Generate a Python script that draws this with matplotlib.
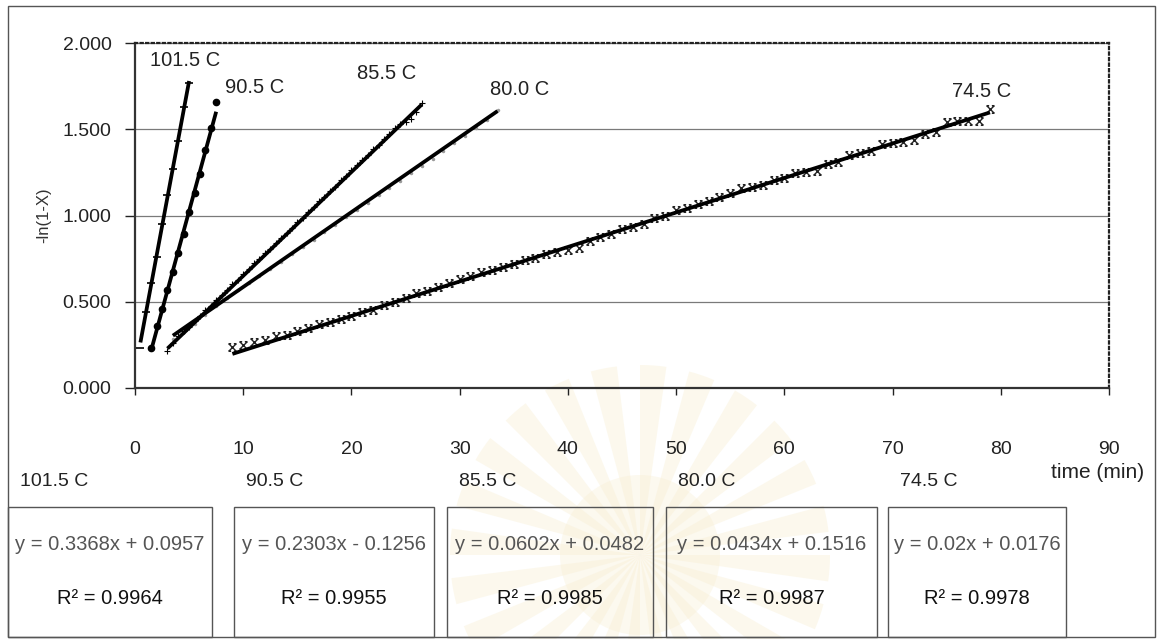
import numpy as np
import matplotlib
matplotlib.use("Agg")
import matplotlib.pyplot as plt
from matplotlib.path import Path
from matplotlib.patches import Rectangle, Wedge

plt.rcParams['font.family'] = ['Liberation Sans', 'DejaVu Sans']

# conversion runs: time (min) vs -ln(1-X)
labels = ['101.5 C', '90.5 C', '85.5 C', '80.0 C', '74.5 C']

t_1015 = [0.5, 1.0, 1.5, 2.0, 2.5, 3.0, 3.5, 4.0, 4.5, 5.0]
y_1015 = [0.23, 0.44, 0.61, 0.76, 0.95, 1.12, 1.27, 1.43, 1.63, 1.77]

t_905 = [1.5, 2.0, 2.5, 3.0, 3.5, 4.0, 4.5, 5.0, 5.5, 6.0, 6.5, 7.0, 7.5]
y_905 = [0.23, 0.36, 0.46, 0.57, 0.67, 0.78, 0.89, 1.02, 1.13, 1.24, 1.38, 1.51, 1.66]

t_855 = [3.0, 3.5, 4.0, 4.5, 5.0, 5.5, 6.0, 6.5, 7.0, 7.5, 8.0, 8.5, 9.0, 9.5,
         10.0, 10.5, 11.0, 11.5, 12.0, 12.5, 13.0, 13.5, 14.0, 14.5, 15.0, 15.5,
         16.0, 16.5, 17.0, 17.5, 18.0, 18.5, 19.0, 19.5, 20.0, 20.5, 21.0, 21.5,
         22.0, 22.5, 23.0, 23.5, 24.0, 24.5, 25.0, 25.5, 26.0, 26.5]
y_855 = [0.215, 0.262, 0.300, 0.330, 0.352, 0.390, 0.418, 0.452, 0.478, 0.508,
         0.542, 0.566, 0.601, 0.628, 0.662, 0.688, 0.722, 0.748, 0.783, 0.806,
         0.842, 0.868, 0.900, 0.930, 0.962, 0.988, 1.020, 1.050, 1.083, 1.108,
         1.143, 1.168, 1.203, 1.228, 1.262, 1.290, 1.322, 1.350, 1.384, 1.410,
         1.445, 1.470, 1.505, 1.530, 1.540, 1.560, 1.600, 1.650]

t_800 = [3.5, 4.5, 5.5, 6.5, 7.5, 8.5, 9.5, 10.5, 11.5, 12.5, 13.5, 14.5, 15.5,
         16.5, 17.5, 18.5, 19.5, 20.5, 21.5, 22.5, 23.5, 24.5, 25.5, 26.5, 27.5,
         28.5, 29.5, 30.5, 31.5, 32.5, 33.5]
y_800 = [0.285, 0.325, 0.372, 0.425, 0.474, 0.520, 0.566, 0.610, 0.652, 0.690,
         0.732, 0.775, 0.818, 0.860, 0.902, 0.946, 0.990, 1.032, 1.074, 1.118,
         1.160, 1.200, 1.244, 1.288, 1.330, 1.374, 1.418, 1.460, 1.508, 1.552,
         1.612]

t_745 = [9, 10, 11, 12, 13, 14, 15, 16, 17, 18, 19, 20, 21, 22, 23, 24, 25, 26,
         27, 28, 29, 30, 31, 32, 33, 34, 35, 36, 37, 38, 39, 40, 41, 42, 43, 44,
         45, 46, 47, 48, 49, 50, 51, 52, 53, 54, 55, 56, 57, 58, 59, 60, 61, 62,
         63, 64, 65, 66, 67, 68, 69, 70, 71, 72, 73, 74, 75, 76, 77, 78, 79]
y_745 = [0.235, 0.250, 0.265, 0.280, 0.300, 0.310, 0.330, 0.350, 0.370, 0.385,
         0.400, 0.420, 0.440, 0.455, 0.480, 0.500, 0.520, 0.550, 0.565, 0.585,
         0.610, 0.630, 0.650, 0.670, 0.685, 0.700, 0.720, 0.740, 0.755, 0.775,
         0.790, 0.800, 0.810, 0.855, 0.875, 0.890, 0.920, 0.935, 0.950, 0.985,
         0.995, 1.030, 1.045, 1.065, 1.085, 1.110, 1.130, 1.160, 1.165, 1.175,
         1.205, 1.215, 1.245, 1.250, 1.260, 1.300, 1.310, 1.350, 1.360, 1.375,
         1.415, 1.420, 1.425, 1.435, 1.470, 1.485, 1.540, 1.545, 1.545, 1.550,
         1.620]

# linear trend lines reported for each run
slopes = [0.3368, 0.2303, 0.0602, 0.0434, 0.02]
intercepts = [0.0957, -0.1256, 0.0482, 0.1516, 0.0176]
r_squared = [0.9964, 0.9955, 0.9985, 0.9987, 0.9978]

W, H = 1170, 639


def fx(px):
    return px / W


def fy(py):
    return 1 - py / H


# x marker with little serifs, like the old spreadsheet one
serif_x = Path([(-1, -1), (1, 1), (-1, 1), (1, -1),
                (-1, 1), (-0.35, 1), (0.35, 1), (1, 1),
                (-1, -1), (-0.35, -1), (0.35, -1), (1, -1)],
               [Path.MOVETO, Path.LINETO] * 6)

fig = plt.figure(figsize=(W / 100, H / 100), dpi=100)

# faint seal in the background
bg = fig.add_axes([0, 0, 1, 1], zorder=-5)
bg.set_xlim(0, W)
bg.set_ylim(H, 0)
bg.axis('off')
for k in range(24):
    a0 = k * 360 / 24
    bg.add_patch(Wedge((640, 555), 190, a0, a0 + 8, color='#f9f1d8', alpha=0.45, lw=0))
bg.add_patch(Wedge((640, 555), 80, 0, 360, color='#f8eed2', alpha=0.35, lw=0))

# outer frame
bg.add_patch(Rectangle((8, 6), 1147, 631, fill=False, ec='#555555', lw=1.0))

ax = fig.add_axes([fx(135), fy(388), fx(1109) - fx(135), fy(43) - fy(388)])
ax.patch.set_alpha(0)

series = [
    (t_1015, y_1015, dict(marker='_', ms=6, mew=1.2, color='black')),
    (t_905, y_905, dict(marker='o', ms=4.5, color='black')),
    (t_855, y_855, dict(marker='+', ms=4, mew=0.8, color='black')),
    (t_800, y_800, dict(marker='.', ms=3, color='#9a9a9a')),
    (t_745, y_745, dict(marker=serif_x, ms=5.5, mew=1.0, color='#222222', mfc='none')),
]
for (t, y, style), m, b in zip(series, slopes, intercepts):
    ax.plot(t, y, ls='none', zorder=3, **style)
    tt = np.array([t[0], t[-1]])
    ax.plot(tt, m * tt + b, color='black', lw=2.7, solid_capstyle='butt', zorder=4)

ax.set_xlim(0, 90)
ax.set_ylim(0, 2)
ax.set_xticks(np.arange(0, 91, 10))
ax.set_yticks(np.arange(0, 2.01, 0.5))
ax.yaxis.set_major_formatter(matplotlib.ticker.FormatStrFormatter('%.3f'))
ax.grid(axis='y', color='#7a7a7a', lw=0.9)
ax.set_axisbelow(True)

for side in ['left', 'bottom']:
    ax.spines[side].set_color('#333333')
    ax.spines[side].set_linewidth(1.6)
for side in ['top', 'right']:
    ax.spines[side].set_linestyle((0, (1, 1.5)))
    ax.spines[side].set_linewidth(1.6)
    ax.spines[side].set_color('#222222')

ax.tick_params(axis='y', direction='out', length=7, width=1, pad=10, labelsize=14,
               colors='#222222')
ax.tick_params(axis='x', direction='out', length=5, width=1, pad=33, labelsize=14,
               colors='#222222')

ax.set_ylabel('-ln(1-X)', fontsize=12, color='#333333', labelpad=8)
fig.text(fx(1098), fy(472), 'time (min)', fontsize=15, ha='center', va='center',
         color='#222222')

# series names next to the line ends
label_pos = [(1.4, 1.90), (8.3, 1.74), (20.5, 1.826), (32.8, 1.728), (75.5, 1.716)]
for name, (lx, ly) in zip(labels, label_pos):
    ax.text(lx, ly, name, fontsize=14.5, ha='left', va='center', color='#222222')

# equation boxes along the bottom
boxes = [(8, 212), (234, 434), (447, 653), (666, 877), (888, 1066)]
for name, (x0, x1), m, b, r2 in zip(labels, boxes, slopes, intercepts, r_squared):
    bg.add_patch(Rectangle((x0, 507), x1 - x0, 130, fill=False, ec='#555555', lw=1.0))
    sign = '+' if b >= 0 else '-'
    eq = f'y = {m:g}x {sign} {abs(b):g}'
    cx = (x0 + x1) / 2
    fig.text(fx(x0 + 12), fy(482), name, fontsize=14, ha='left', va='center',
             color='#222222')
    fig.text(fx(cx), fy(545), eq, fontsize=14.5, ha='center', va='center',
             color='#555555')
    fig.text(fx(cx), fy(598), f'R\u00b2 = {r2:.4f}', fontsize=14.5, ha='center',
             va='center', color='#111111')

fig.savefig('out.png', dpi=100)
